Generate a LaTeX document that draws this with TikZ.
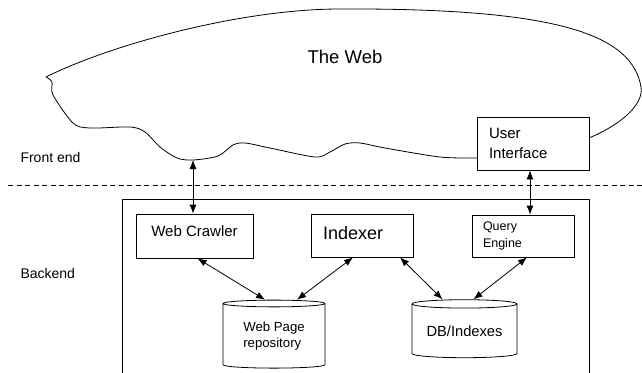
\documentclass[tikz,border=0pt]{standalone}
\usepackage{fontspec}
\setmainfont{Liberation Sans}
\usetikzlibrary{shapes.geometric,arrows.meta}
\begin{document}
\begin{tikzpicture}[
        x=1pt, y=-1pt,
        box/.style={rectangle, draw, line width=0.8pt, inner sep=0pt},
        store/.style={cylinder, shape border rotate=90, draw, line width=0.8pt, aspect=0.11, inner sep=0pt, align=left},
        side/.style={anchor=west, font=\fontsize{14}{16}\selectfont},
        arrow/.style={{Latex[length=9pt,width=7pt]}-{Latex[length=9pt,width=7pt]}, line width=0.8pt}
    ]
        \useasboundingbox (0,0) rectangle (642,372);

        % The Web
        \node[box, minimum width=112pt, minimum height=53pt, text width=88pt, align=left,
            font=\fontsize{15}{20}\selectfont] (ui) at (533,143.5) {User\\Interface};
        \draw[line width=0.8pt, line join=round] (589,138) .. controls (620,125) and (644,105) .. (641,87)
            .. controls (632,35) and (560,8) .. (340,9)
            .. controls (240,9) and (110,45) .. (46,77)
            -- plot[smooth] coordinates {(46,77) (52,82) (53,95) (73,123) (90,128) (130,127)
            (145,132) (160,147) (177,158) (193,160) (218,156) (233,145) (245,143) (270,148)
            (315,157) (330,152) (345,144) (360,143) (385,148) (440,157) (477,158)};
        \node[font=\fontsize{18.5}{20}\selectfont] (web) at (345,57) {The Web};
        \coordinate (dip) at (193,160);

        % Front end / Backend
        \node[side] (front) at (17,157) {Front end};
        \node[side] (back) at (17,273) {Backend};
        \draw[dashed, dash pattern=on 5pt off 3.5pt, line width=0.8pt] (8,185) -- (642,185);
        \draw[line width=0.8pt] (122,380) -- (122,199) -- (589,199) -- (589,380);

        % Backend parts
        \node[box, minimum width=117pt, minimum height=44pt, text height=11pt, text depth=11pt,
            font=\fontsize{15}{18}\selectfont] (crawler) at (194.5,236) {Web Crawler};
        \node[box, minimum width=102pt, minimum height=43pt, text width=78pt, align=left,
            text depth=6pt, font=\fontsize{18}{20}\selectfont] (indexer) at (362,235.5) {Indexer};
        \node[box, minimum width=102pt, minimum height=42pt, text width=80pt, align=left,
            font=\fontsize{12.5}{17}\selectfont] (engine) at (523,236) {Query\\Engine};
        \node[store, minimum width=102pt, minimum height=68pt,
            font=\fontsize{13.2}{16}\selectfont] (repo) at (274,336) {Web Page\\repository};
        \node[store, minimum width=105pt, minimum height=58pt,
            font=\fontsize{14.7}{17}\selectfont] (db) at (464.5,331) {DB/Indexes};

        % Arrows
        \draw[arrow] (dip) -- (dip |- crawler.north);
        \draw[arrow] ([xshift=-3pt]ui.south) -- ([xshift=-3pt]ui.south |- engine.north);
        \draw[arrow] ([xshift=3pt]crawler.south) -- ([xshift=-9pt]repo.north);
        \draw[arrow] ([xshift=-9pt]indexer.south) -- ([xshift=23pt]repo.north);
        \draw[arrow] ([xshift=38pt]indexer.south) -- ([xshift=-22pt]db.north);
        \draw[arrow] ([xshift=4pt]engine.south) -- ([xshift=9pt]db.north);
    \end{tikzpicture}
\end{document}
